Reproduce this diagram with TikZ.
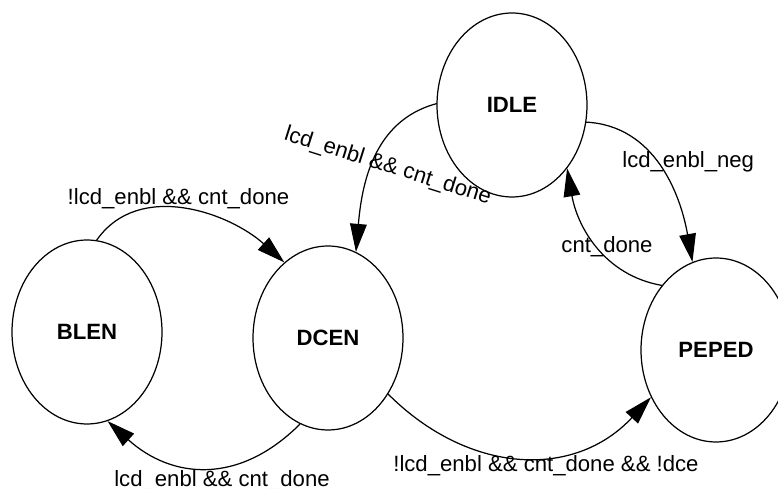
\documentclass[tikz,border=0pt]{standalone}
\usepackage{fontspec}
\setmainfont{Liberation Sans}
\usetikzlibrary{shapes.geometric,arrows.meta}

\begin{document}
\begin{tikzpicture}[
    x={(0.02cm,0cm)},
    y={(0cm,-0.02cm)},
    line cap=round,
    line join=round,
    font=\fontsize{12.6}{15}\selectfont,
    state/.style={ellipse,draw,line width=0.7pt,inner sep=0pt,
        minimum width=3cm,minimum height=3.68cm,
        font=\fontsize{12.6}{15}\selectfont\bfseries},
    trans/.style={line width=0.7pt,-{Triangle[length=16pt,width=9.5pt]}},
    guard/.style={inner sep=0pt,anchor=base}
]

% =========================================================
% Рамка
% =========================================================

\useasboundingbox (0,0) rectangle (778,489);

% =========================================================
% Состояния
% =========================================================

\node[state] (idle)  at (512,105) {IDLE};
\node[state] (blen)  at (87,332)  {BLEN};
\node[state] (dcen)  at (328,338) {DCEN};
\node[state] (peped) at (716,350) {PEPED};

% =========================================================
% Переходы
% =========================================================

\draw[trans] (blen.84)   to[out=55,in=138] (dcen.120);
\draw[trans] (dcen.-108) to[out=-135,in=-42,looseness=1.15] (blen.-77);
\draw[trans] (idle.179)  to[out=195,in=85] (dcen.72);
\draw[trans] (idle.-13)  to[out=-3,in=100] (peped.105);
\draw[trans] (peped.130) to[out=170,in=-80] (idle.-49);
\draw[trans] (dcen.-43)  to[out=-45,in=-133,looseness=1.1] (peped.-144);

% =========================================================
% Условия переходов
% =========================================================

\node[guard] (g1) at (178.5,205) {!lcd\_enbl \&\& cnt\_done};
\node[guard] (g2) at (222,487) {lcd\_enbl \&\& cnt\_done};
\node[guard,rotate=-17.5] (g3) at (386,172) {lcd\_enbl \&\& cnt\_done};
\node[guard,anchor=base west] (g4) at (622,168) {lcd\_enbl\_neg};
\node[guard] (g5) at (607,253) {cnt\_done};
\node[guard,anchor=base west] (g6) at (393,472) {!lcd\_enbl \&\& cnt\_done \&\& !dce};

\end{tikzpicture}
\end{document}
